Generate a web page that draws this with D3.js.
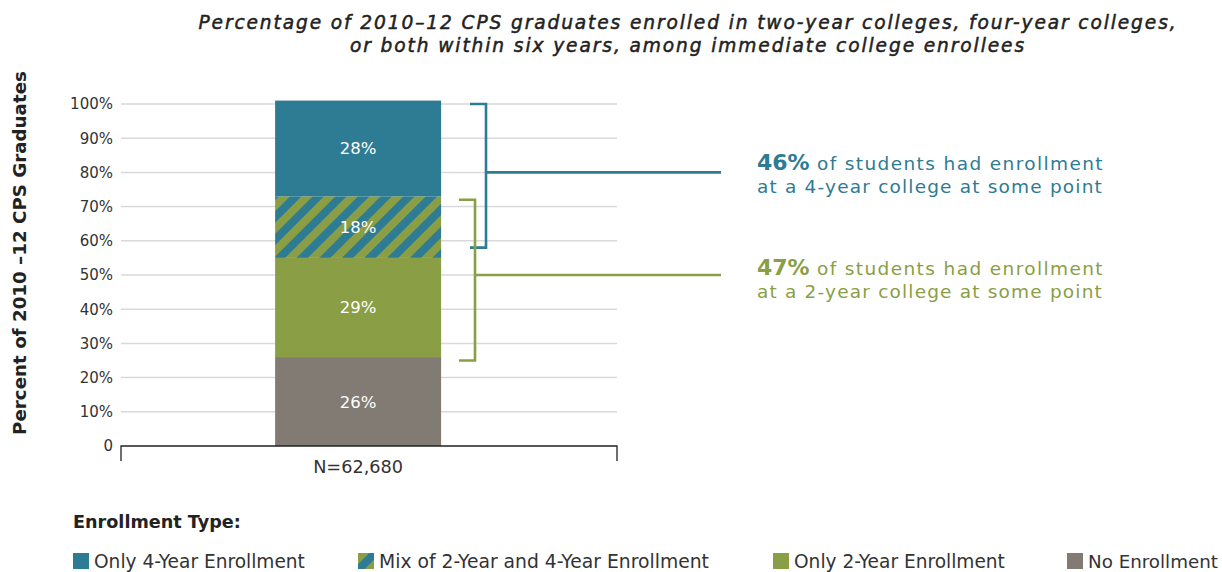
<!DOCTYPE html>
<html>
<head>
<meta charset="utf-8">
<script src="https://cdn.jsdelivr.net/npm/d3@7"></script>
<style>
  html, body { margin: 0; padding: 0; background: #fff; }
  svg { display: block; font-family: "DejaVu Sans", "Noto Sans", sans-serif; }
</style>
</head>
<body>
<svg id="chart" width="1222" height="572"></svg>
<script>
// Stacked enrollment shares (bottom to top), one bar
const categories = ["N=62,680"];
const segmentKeys = ["none", "only2", "mix", "only4"];
const segmentNames = ["No Enrollment", "Only 2-Year Enrollment", "Mix of 2-Year and 4-Year Enrollment", "Only 4-Year Enrollment"];
const segmentValues = [26, 29, 18, 28];
const yTicks = [0, 10, 20, 30, 40, 50, 60, 70, 80, 90, 100];
const yTickLabels = ["0", "10%", "20%", "30%", "40%", "50%", "60%", "70%", "80%", "90%", "100%"];
const legendOrder = ["only4", "mix", "only2", "none"];
// Bracket annotations: [from %, to %, connector %]
const bracket4 = [100, 58, 80];
const bracket2 = [72, 25, 50];
const summary4 = ["46%", " of students had enrollment", "at a 4-year college at some point"];
const summary2 = ["47%", " of students had enrollment", "at a 2-year college at some point"];

const TEAL = "#2e7b94", GREEN = "#8a9e45", GRAY = "#817b74";
const color = { only4: TEAL, mix: "url(#hatch)", only2: GREEN, none: GRAY };

const svg = d3.select("#chart");

// scale a text's font size so its run is the given width
function fit(sel, width) {
  const node = sel.node();
  const fs = parseFloat(sel.attr("font-size"));
  const w = node.getComputedTextLength();
  if (w > 0) sel.attr("font-size", (fs * width / w).toFixed(2));
  return sel;
}
// open up letter spacing so a text's run is the given width
function track(sel, width) {
  const node = sel.node();
  const w = node.getComputedTextLength();
  const n = node.textContent.length;
  if (w > 0 && n > 1) sel.attr("letter-spacing", ((width - w) / n).toFixed(3));
  return sel;
}

// diagonal stripes for the mixed segment
const defs = svg.append("defs");
const pat = defs.append("pattern")
  .attr("id", "hatch")
  .attr("patternUnits", "userSpaceOnUse")
  .attr("width", 16).attr("height", 16)
  .attr("patternTransform", "rotate(45)");
pat.append("rect").attr("width", 16).attr("height", 16).attr("fill", TEAL);
pat.append("rect").attr("width", 8).attr("height", 16).attr("fill", GREEN);

const y = d3.scaleLinear().domain([0, 100]).range([446, 104]);
const x = d3.scaleBand().domain(categories).range([121, 617])
  .paddingInner(0).paddingOuter(0.994).align(0.467);

// Title
const titleLines = [
  ["Percentage of 2010–12 CPS graduates enrolled in two-year colleges, four-year colleges,", 29, 979],
  ["or both within six years, among immediate college enrollees", 52, 676]
];
titleLines.forEach(([txt, yy, w]) => {
  const t = svg.append("text")
    .attr("x", 688).attr("y", yy)
    .attr("text-anchor", "middle")
    .attr("font-style", "italic")
    .attr("font-size", 18.6).attr("fill", "#222")
    .attr("stroke", "#222").attr("stroke-width", 0.5)
    .text(txt);
  track(t, w);
});

// Gridlines
svg.append("g").selectAll("line")
  .data(yTicks.filter(d => d > 0))
  .join("line")
  .attr("x1", 121).attr("x2", 617)
  .attr("y1", d => y(d)).attr("y2", d => y(d))
  .attr("stroke", "#d9d9d9").attr("stroke-width", 1.5);

// Y axis labels
const yAxis = d3.axisLeft(y).tickValues(yTicks)
  .tickFormat((d, i) => yTickLabels[i]).tickSize(0).tickPadding(8);
const gy = svg.append("g").attr("transform", "translate(121,0)").call(yAxis);
gy.select(".domain").remove();
gy.selectAll("text")
  .attr("font-family", "'DejaVu Sans', sans-serif")
  .attr("font-size", 15).attr("fill", "#333");

// Y axis title
const yt = svg.append("text")
  .attr("transform", "translate(26,253) rotate(-90)")
  .attr("text-anchor", "middle")
  .attr("font-weight", 700).attr("font-size", 17).attr("fill", "#222")
  .text("Percent of 2010 –12 CPS Graduates");
fit(yt, 364);

// Stacked bar
const row = Object.fromEntries(segmentKeys.map((k, i) => [k, segmentValues[i]]));
row.cat = categories[0];
const stacked = d3.stack().keys(segmentKeys)([row]);
const gBars = svg.append("g");
stacked.forEach(layer => {
  const d = layer[0];
  gBars.append("rect")
    .attr("x", x(d.data.cat))
    .attr("width", x.bandwidth())
    .attr("y", y(d[1]))
    .attr("height", y(d[0]) - y(d[1]))
    .attr("fill", color[layer.key]);
  gBars.append("text")
    .attr("x", x(d.data.cat) + x.bandwidth() / 2)
    .attr("y", y((d[0] + d[1]) / 2) + 6)
    .attr("text-anchor", "middle")
    .attr("font-size", 16.5).attr("fill", "#fff")
    .text(d.data[layer.key] + "%");
});

// X axis
const xAxis = d3.axisBottom(x).tickSize(0).tickPadding(14);
const gx = svg.append("g").attr("transform", "translate(0,446)").call(xAxis);
gx.select(".domain").remove();
gx.selectAll("text")
  .attr("font-family", "'DejaVu Sans', sans-serif")
  .attr("font-size", 16).attr("fill", "#333")
  .each(function () { fit(d3.select(this), 90); });
svg.append("path")
  .attr("d", "M121,461V446H617V461")
  .attr("fill", "none").attr("stroke", "#222").attr("stroke-width", 1.3);

// Brackets
function bracket(b, xv, xl, col) {
  const [a, z, m] = b;
  svg.append("path")
    .attr("d", `M${xl},${y(a)}H${xv}V${y(z)}H${xl}M${xv},${y(m)}H721`)
    .attr("fill", "none").attr("stroke", col).attr("stroke-width", 2.6);
}
bracket(bracket4, 486, 470, TEAL);
bracket(bracket2, 475, 459, GREEN);

// Summary notes
function note(lines, base, col) {
  const t = svg.append("text").attr("x", 757).attr("y", base).attr("fill", col).attr("font-size", 18.5);
  t.append("tspan").attr("font-weight", 700).attr("font-size", 22).text(lines[0]);
  const rest = t.append("tspan").text(lines[1]);
  const lead = t.node().getComputedTextLength() - rest.node().getComputedTextLength();
  track(rest, 347 - lead);
  const t2 = svg.append("text").attr("x", 757).attr("y", base + 23).attr("fill", col)
    .attr("font-size", 18.5).text(lines[2]);
  track(t2, 346);
}
note(summary4, 170, TEAL);
note(summary2, 275, GREEN);

// Legend
const lt = svg.append("text")
  .attr("x", 73).attr("y", 528)
  .attr("font-weight", 700).attr("font-size", 15).attr("fill", "#222")
  .text("Enrollment Type:");
fit(lt, 168);
const legendX = [73, 358, 773, 1067];
const legendW = [211, 330, 211, 130];
legendOrder.forEach((k, i) => {
  const g = svg.append("g").attr("transform", `translate(${legendX[i]},553)`);
  g.append("rect").attr("width", 16).attr("height", 16).attr("fill", color[k]);
  const lbl = g.append("text").attr("x", 21).attr("y", 14.5)
    .attr("font-size", 16).attr("fill", "#333")
    .text(segmentNames[segmentKeys.indexOf(k)]);
  fit(lbl, legendW[i]);
});
</script>
</body>
</html>
